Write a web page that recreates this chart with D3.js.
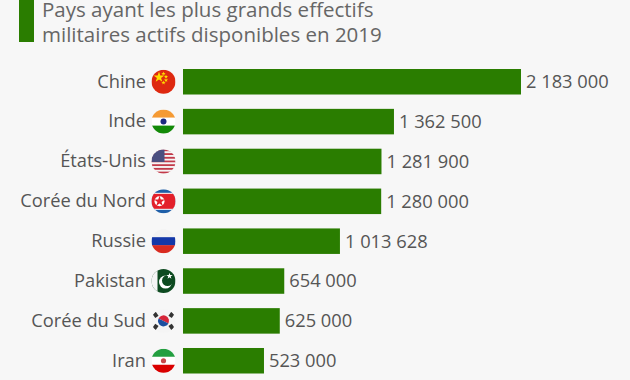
<!DOCTYPE html>
<html>
<head>
<meta charset="utf-8">
<script src="https://cdn.jsdelivr.net/npm/d3@7"></script>
<style>
  html, body { margin: 0; padding: 0; background: #f7f7f7; }
  svg { display: block; font-family: "Open Sans", sans-serif; }
</style>
</head>
<body>
<div id="chart"></div>
<script>
const countries = ["Chine", "Inde", "États-Unis", "Corée du Nord", "Russie", "Pakistan", "Corée du Sud", "Iran"];
const effectifs = [2183000, 1362500, 1281900, 1280000, 1013628, 654000, 625000, 523000];
const titleLines = ["Pays ayant les plus grands effectifs", "militaires actifs disponibles en 2019"];

const green = "#2a7d00", textColor = "#555555";

var width = 630, height = 380;

var svg = d3.select("#chart").append("svg")
  .attr("width", width)
  .attr("height", height);

// accent bar + title
svg.append("rect")
  .attr("x", 19).attr("y", -5)
  .attr("width", 15).attr("height", 47)
  .attr("fill", green);

svg.append("g").selectAll("text")
  .data(titleLines)
  .enter().append("text")
  .attr("x", 42)
  .attr("y", (d, i) => 17 + i * 25)
  .attr("font-size", 20.5)
  .attr("fill", "#666666")
  .text(d => d);

// scales
var x = d3.scaleLinear().domain([0, 2183000]).range([183, 521]);
var y = d3.scaleBand()
  .domain(countries)
  .range([69, 373.5])
  .paddingInner(0.36)
  .paddingOuter(0);

// country labels
var yAxis = svg.append("g")
  .attr("transform", "translate(183,0)")
  .call(d3.axisLeft(y).tickSize(0).tickPadding(37));
yAxis.select(".domain").remove();
yAxis.selectAll("text")
  .attr("font-family", '"Open Sans", sans-serif')
  .attr("font-size", 18.3)
  .attr("fill", textColor);

// bars
svg.append("g").selectAll("rect")
  .data(countries)
  .enter().append("rect")
  .attr("x", x(0))
  .attr("y", d => y(d))
  .attr("width", (d, i) => x(effectifs[i]) - x(0))
  .attr("height", y.bandwidth())
  .attr("fill", green);

// values, space as thousands separator
var fr = d3.formatLocale({ decimal: ",", thousands: " ", grouping: [3], currency: ["", "€"] });
svg.append("g").selectAll("text")
  .data(countries)
  .enter().append("text")
  .attr("x", (d, i) => x(effectifs[i]) + 5)
  .attr("y", d => y(d) + y.bandwidth() / 2)
  .attr("dy", "0.35em")
  .attr("font-size", 18.3)
  .attr("fill", textColor)
  .text((d, i) => fr.format(",")(effectifs[i]));

// flags, drawn in a 24px box centred on 0,0
const r = 12;
function stripes(g, colors) {
  var h = 2 * r / colors.length;
  colors.forEach((c, i) => g.append("rect")
    .attr("x", -r).attr("y", -r + i * h)
    .attr("width", 2 * r).attr("height", h + 0.3).attr("fill", c));
}
function star(g, cx, cy, size, color) {
  g.append("path")
    .attr("transform", "translate(" + cx + "," + cy + ")")
    .attr("d", d3.symbol(d3.symbolStar, size * size)())
    .attr("fill", color);
}
const flags = {
  "Chine": g => {
    stripes(g, ["#de2910"]);
    star(g, -4.5, -4.5, 6, "#ffde00");
    star(g, 0, -8, 2.4, "#ffde00");
    star(g, 2.5, -5, 2.4, "#ffde00");
    star(g, 2.5, -1.5, 2.4, "#ffde00");
    star(g, 0, 1, 2.4, "#ffde00");
  },
  "Inde": g => {
    stripes(g, ["#f59a33", "#ffffff", "#138a08"]);
    g.append("circle").attr("r", 3).attr("fill", "#1b2a80");
  },
  "États-Unis": g => {
    stripes(g, d3.range(13).map(i => i % 2 ? "#f5f5f5" : "#c23a4a"));
    g.append("rect").attr("x", -r).attr("y", -r).attr("width", 13).attr("height", 12.5).attr("fill", "#4a4f80");
  },
  "Corée du Nord": g => {
    stripes(g, ["#1f5fa8"]);
    g.append("rect").attr("x", -r).attr("y", -8.5).attr("width", 2 * r).attr("height", 17).attr("fill", "#ffffff");
    g.append("rect").attr("x", -r).attr("y", -7.5).attr("width", 2 * r).attr("height", 15).attr("fill", "#e3202b");
    g.append("circle").attr("cx", -4).attr("r", 5).attr("fill", "#ffffff");
    star(g, -4, 0, 6, "#e3202b");
  },
  "Russie": g => stripes(g, ["#f2f2f2", "#1438a8", "#d92b20"]),
  "Pakistan": g => {
    stripes(g, ["#0d4a20"]);
    g.append("rect").attr("x", -r).attr("y", -r).attr("width", 6).attr("height", 2 * r).attr("fill", "#f5f5f5");
    g.append("circle").attr("cx", 2).attr("cy", 1).attr("r", 6.5).attr("fill", "#ffffff");
    g.append("circle").attr("cx", 4).attr("cy", -0.5).attr("r", 5.5).attr("fill", "#0d4a20");
    star(g, 6, -5, 3.5, "#ffffff");
  },
  "Corée du Sud": g => {
    stripes(g, ["#f5f5f5"]);
    var arc = d3.arc().innerRadius(0).outerRadius(5.5);
    g.append("path").attr("d", arc({ startAngle: -1.1, endAngle: 2.04 })).attr("fill", "#d6263a");
    g.append("path").attr("d", arc({ startAngle: 2.04, endAngle: 5.18 })).attr("fill", "#1c4fa0");
    [[-8, -6], [8, -6], [-8, 6], [8, 6]].forEach(p => g.append("rect")
      .attr("x", -2.5).attr("y", -2)
      .attr("width", 5).attr("height", 4)
      .attr("transform", "translate(" + p[0] + "," + p[1] + ") rotate(" + (p[0] * p[1] > 0 ? 55 : -55) + ")")
      .attr("fill", "#333333"));
  },
  "Iran": g => {
    stripes(g, ["#239f40", "#ffffff", "#da0000"]);
    g.append("circle").attr("r", 2.6).attr("fill", "#c8484a");
  }
};

var defs = svg.append("defs");
defs.append("clipPath").attr("id", "flagClip").append("circle").attr("r", r);

var flagGroups = svg.append("g").selectAll("g")
  .data(countries)
  .enter().append("g")
  .attr("transform", d => "translate(163.5," + (y(d) + y.bandwidth() / 2) + ")");

flagGroups.each(function (d) {
  var g = d3.select(this).append("g").attr("clip-path", "url(#flagClip)");
  flags[d](g);
});
</script>
</body>
</html>
